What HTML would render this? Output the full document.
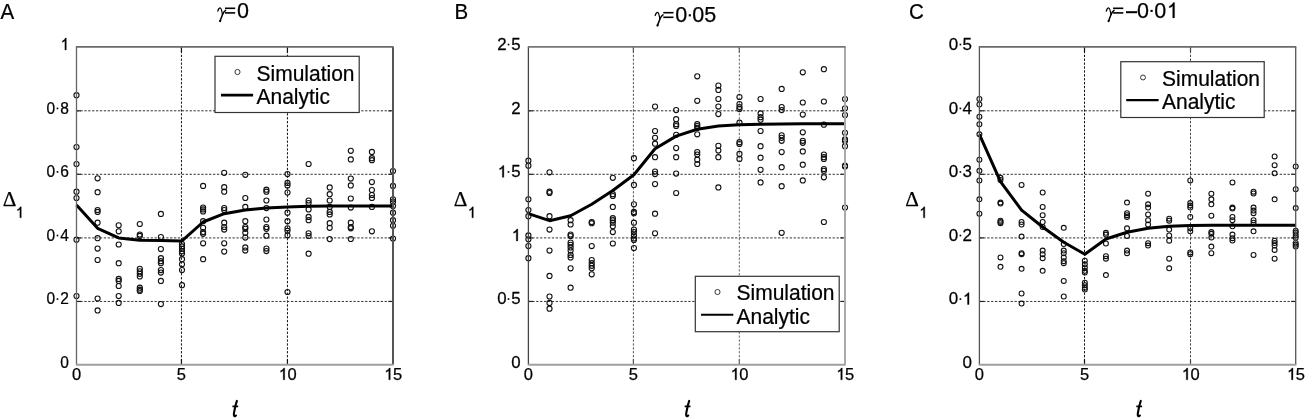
<!DOCTYPE html>
<html><head><meta charset="utf-8"><style>
html,body{margin:0;padding:0;background:#fff;}
body{width:1308px;height:420px;overflow:hidden;}
svg{display:block;will-change:transform;}
text{font-family:"Liberation Sans",sans-serif;fill:#000;stroke:#000;stroke-width:0.25px;}
.sr{font-family:"Liberation Serif",serif;}
</style></head><body>
<svg width="1308" height="420" viewBox="0 0 1308 420">

<g fill="none" stroke="#111" stroke-width="1.1"><line x1="181.45" y1="46.9" x2="181.45" y2="364.7" stroke="#111" stroke-width="1" stroke-dasharray="2.3 1.6"/>
<line x1="181.45" y1="364.7" x2="181.45" y2="359.2" stroke="#111" stroke-width="1.2"/>
<line x1="181.45" y1="46.9" x2="181.45" y2="52.4" stroke="#111" stroke-width="1.2"/>
<line x1="287.45" y1="46.9" x2="287.45" y2="364.7" stroke="#111" stroke-width="1" stroke-dasharray="2.3 1.6"/>
<line x1="287.45" y1="364.7" x2="287.45" y2="359.2" stroke="#111" stroke-width="1.2"/>
<line x1="287.45" y1="46.9" x2="287.45" y2="52.4" stroke="#111" stroke-width="1.2"/>
<line x1="76.5" y1="301.45" x2="393" y2="301.45" stroke="#333" stroke-width="1" stroke-dasharray="2.3 1.6"/>
<line x1="76.5" y1="301.45" x2="81" y2="301.45" stroke="#222" stroke-width="1.2"/>
<line x1="393" y1="301.45" x2="388.5" y2="301.45" stroke="#222" stroke-width="1.2"/>
<line x1="76.5" y1="237.9" x2="393" y2="237.9" stroke="#333" stroke-width="1" stroke-dasharray="2.3 1.6"/>
<line x1="76.5" y1="237.9" x2="81" y2="237.9" stroke="#222" stroke-width="1.2"/>
<line x1="393" y1="237.9" x2="388.5" y2="237.9" stroke="#222" stroke-width="1.2"/>
<line x1="76.5" y1="174.3" x2="393" y2="174.3" stroke="#333" stroke-width="1" stroke-dasharray="2.3 1.6"/>
<line x1="76.5" y1="174.3" x2="81" y2="174.3" stroke="#222" stroke-width="1.2"/>
<line x1="393" y1="174.3" x2="388.5" y2="174.3" stroke="#222" stroke-width="1.2"/>
<line x1="76.5" y1="110.8" x2="393" y2="110.8" stroke="#333" stroke-width="1" stroke-dasharray="2.3 1.6"/>
<line x1="76.5" y1="110.8" x2="81" y2="110.8" stroke="#222" stroke-width="1.2"/>
<line x1="393" y1="110.8" x2="388.5" y2="110.8" stroke="#222" stroke-width="1.2"/>
<circle cx="76.5" cy="95.2" r="2.55"/>
<circle cx="76.5" cy="147" r="2.55"/>
<circle cx="76.5" cy="164" r="2.55"/>
<circle cx="76.5" cy="191.7" r="2.55"/>
<circle cx="76.5" cy="198" r="2.55"/>
<circle cx="76.5" cy="239.7" r="2.55"/>
<circle cx="76.5" cy="296" r="2.55"/>
<circle cx="97.6" cy="178.3" r="2.55"/>
<circle cx="97.6" cy="192.2" r="2.55"/>
<circle cx="97.6" cy="210.1" r="2.55"/>
<circle cx="97.6" cy="211.9" r="2.55"/>
<circle cx="97.6" cy="222.7" r="2.55"/>
<circle cx="97.6" cy="238.2" r="2.55"/>
<circle cx="97.6" cy="248.6" r="2.55"/>
<circle cx="97.6" cy="260" r="2.55"/>
<circle cx="97.6" cy="298.6" r="2.55"/>
<circle cx="97.6" cy="310.4" r="2.55"/>
<circle cx="118.7" cy="225.3" r="2.55"/>
<circle cx="118.7" cy="231.3" r="2.55"/>
<circle cx="118.7" cy="244.5" r="2.55"/>
<circle cx="118.7" cy="263.2" r="2.55"/>
<circle cx="118.7" cy="278.9" r="2.55"/>
<circle cx="118.7" cy="280.9" r="2.55"/>
<circle cx="118.7" cy="286" r="2.55"/>
<circle cx="118.7" cy="296" r="2.55"/>
<circle cx="118.7" cy="302.9" r="2.55"/>
<circle cx="139.8" cy="224" r="2.55"/>
<circle cx="139.8" cy="234.6" r="2.55"/>
<circle cx="139.8" cy="235.9" r="2.55"/>
<circle cx="139.8" cy="268.8" r="2.55"/>
<circle cx="139.8" cy="271.3" r="2.55"/>
<circle cx="139.8" cy="273.8" r="2.55"/>
<circle cx="139.8" cy="276.4" r="2.55"/>
<circle cx="139.8" cy="287.7" r="2.55"/>
<circle cx="139.8" cy="289.7" r="2.55"/>
<circle cx="139.8" cy="291" r="2.55"/>
<circle cx="160.9" cy="213.9" r="2.55"/>
<circle cx="160.9" cy="237" r="2.55"/>
<circle cx="160.9" cy="249.1" r="2.55"/>
<circle cx="160.9" cy="258.2" r="2.55"/>
<circle cx="160.9" cy="261.2" r="2.55"/>
<circle cx="160.9" cy="263.2" r="2.55"/>
<circle cx="160.9" cy="270.1" r="2.55"/>
<circle cx="160.9" cy="272.6" r="2.55"/>
<circle cx="160.9" cy="280.9" r="2.55"/>
<circle cx="160.9" cy="304.1" r="2.55"/>
<circle cx="182" cy="244" r="2.55"/>
<circle cx="182" cy="246.4" r="2.55"/>
<circle cx="182" cy="248.8" r="2.55"/>
<circle cx="182" cy="251.2" r="2.55"/>
<circle cx="182" cy="253.6" r="2.55"/>
<circle cx="182" cy="259.2" r="2.55"/>
<circle cx="182" cy="264.3" r="2.55"/>
<circle cx="182" cy="270.1" r="2.55"/>
<circle cx="182" cy="285.2" r="2.55"/>
<circle cx="203.1" cy="185.9" r="2.55"/>
<circle cx="203.1" cy="207.6" r="2.55"/>
<circle cx="203.1" cy="209.4" r="2.55"/>
<circle cx="203.1" cy="211.4" r="2.55"/>
<circle cx="203.1" cy="221.2" r="2.55"/>
<circle cx="203.1" cy="227.8" r="2.55"/>
<circle cx="203.1" cy="232.1" r="2.55"/>
<circle cx="203.1" cy="233.8" r="2.55"/>
<circle cx="203.1" cy="243.3" r="2.55"/>
<circle cx="203.1" cy="259.2" r="2.55"/>
<circle cx="224.2" cy="172.8" r="2.55"/>
<circle cx="224.2" cy="187.2" r="2.55"/>
<circle cx="224.2" cy="191.7" r="2.55"/>
<circle cx="224.2" cy="208.1" r="2.55"/>
<circle cx="224.2" cy="210.1" r="2.55"/>
<circle cx="224.2" cy="222.7" r="2.55"/>
<circle cx="224.2" cy="227" r="2.55"/>
<circle cx="224.2" cy="229.6" r="2.55"/>
<circle cx="224.2" cy="243.3" r="2.55"/>
<circle cx="224.2" cy="251.6" r="2.55"/>
<circle cx="245.3" cy="174.8" r="2.55"/>
<circle cx="245.3" cy="198" r="2.55"/>
<circle cx="245.3" cy="206.9" r="2.55"/>
<circle cx="245.3" cy="221.2" r="2.55"/>
<circle cx="245.3" cy="227" r="2.55"/>
<circle cx="245.3" cy="228.8" r="2.55"/>
<circle cx="245.3" cy="232.8" r="2.55"/>
<circle cx="245.3" cy="237.6" r="2.55"/>
<circle cx="245.3" cy="247.4" r="2.55"/>
<circle cx="245.3" cy="250.6" r="2.55"/>
<circle cx="266.4" cy="189.7" r="2.55"/>
<circle cx="266.4" cy="191.7" r="2.55"/>
<circle cx="266.4" cy="200.5" r="2.55"/>
<circle cx="266.4" cy="208.1" r="2.55"/>
<circle cx="266.4" cy="219.5" r="2.55"/>
<circle cx="266.4" cy="227" r="2.55"/>
<circle cx="266.4" cy="228.8" r="2.55"/>
<circle cx="266.4" cy="235.7" r="2.55"/>
<circle cx="266.4" cy="248.6" r="2.55"/>
<circle cx="266.4" cy="251.1" r="2.55"/>
<circle cx="287.5" cy="174.1" r="2.55"/>
<circle cx="287.5" cy="182.9" r="2.55"/>
<circle cx="287.5" cy="185.4" r="2.55"/>
<circle cx="287.5" cy="192.5" r="2.55"/>
<circle cx="287.5" cy="212.7" r="2.55"/>
<circle cx="287.5" cy="221.2" r="2.55"/>
<circle cx="287.5" cy="228.3" r="2.55"/>
<circle cx="287.5" cy="230.8" r="2.55"/>
<circle cx="287.5" cy="235.3" r="2.55"/>
<circle cx="287.5" cy="292" r="2.55"/>
<circle cx="308.6" cy="164" r="2.55"/>
<circle cx="308.6" cy="200.5" r="2.55"/>
<circle cx="308.6" cy="203.1" r="2.55"/>
<circle cx="308.6" cy="209.4" r="2.55"/>
<circle cx="308.6" cy="216.9" r="2.55"/>
<circle cx="308.6" cy="220.2" r="2.55"/>
<circle cx="308.6" cy="233.3" r="2.55"/>
<circle cx="308.6" cy="236" r="2.55"/>
<circle cx="308.6" cy="253.7" r="2.55"/>
<circle cx="329.7" cy="187.4" r="2.55"/>
<circle cx="329.7" cy="194.2" r="2.55"/>
<circle cx="329.7" cy="200.5" r="2.55"/>
<circle cx="329.7" cy="206.9" r="2.55"/>
<circle cx="329.7" cy="211.9" r="2.55"/>
<circle cx="329.7" cy="214.4" r="2.55"/>
<circle cx="329.7" cy="223.2" r="2.55"/>
<circle cx="329.7" cy="227.8" r="2.55"/>
<circle cx="329.7" cy="239.1" r="2.55"/>
<circle cx="350.8" cy="150.8" r="2.55"/>
<circle cx="350.8" cy="159.4" r="2.55"/>
<circle cx="350.8" cy="178.6" r="2.55"/>
<circle cx="350.8" cy="185.4" r="2.55"/>
<circle cx="350.8" cy="198.5" r="2.55"/>
<circle cx="350.8" cy="207.6" r="2.55"/>
<circle cx="350.8" cy="222.7" r="2.55"/>
<circle cx="350.8" cy="227" r="2.55"/>
<circle cx="350.8" cy="228.3" r="2.55"/>
<circle cx="350.8" cy="239" r="2.55"/>
<circle cx="371.9" cy="151.9" r="2.55"/>
<circle cx="371.9" cy="158.2" r="2.55"/>
<circle cx="371.9" cy="160.2" r="2.55"/>
<circle cx="371.9" cy="182.1" r="2.55"/>
<circle cx="371.9" cy="190" r="2.55"/>
<circle cx="371.9" cy="195" r="2.55"/>
<circle cx="371.9" cy="198" r="2.55"/>
<circle cx="371.9" cy="206.9" r="2.55"/>
<circle cx="371.9" cy="231.3" r="2.55"/>
<circle cx="393" cy="171" r="2.55"/>
<circle cx="393" cy="185.9" r="2.55"/>
<circle cx="393" cy="199.3" r="2.55"/>
<circle cx="393" cy="201.8" r="2.55"/>
<circle cx="393" cy="206.1" r="2.55"/>
<circle cx="393" cy="212.7" r="2.55"/>
<circle cx="393" cy="220.2" r="2.55"/>
<circle cx="393" cy="225.8" r="2.55"/>
<circle cx="393" cy="238.5" r="2.55"/>
<polyline points="76.5,205.1 97.6,228.3 118.7,237.9 139.8,240.2 160.9,240.4 182,240.9 203.1,222 224.2,213.7 245.3,209.9 266.4,208.1 287.5,207.1 308.6,206.3 329.7,206.1 350.8,206.1 371.9,206.1 393,206.1" fill="none" stroke="#000" stroke-width="3" stroke-linejoin="round"/></g>
<line x1="76.5" y1="46.9" x2="76.5" y2="364.7" stroke="#666" stroke-width="1.3"/>
<line x1="393" y1="46.9" x2="393" y2="364.7" stroke="#555" stroke-width="2.0"/>
<line x1="75.9" y1="46.9" x2="393.6" y2="46.9" stroke="#6a6a6a" stroke-width="1.8"/>
<line x1="75.9" y1="364.7" x2="393.6" y2="364.7" stroke="#a0a0a0" stroke-width="2.0"/>
<rect x="215" y="56.3" width="144.2" height="56.2" fill="#fff" stroke="#333" stroke-width="1.2"/>
<circle cx="237.5" cy="72" r="2.55" fill="none" stroke="#222" stroke-width="0.9"/>
<line x1="221" y1="95.1" x2="253.1" y2="95.1" stroke="#000" stroke-width="2.6"/>
<text font-size="22" transform="translate(256.5 80.5) scale(0.955 1)">Simulation</text>
<text font-size="22" transform="translate(256.5 103.7) scale(0.955 1)">Analytic</text>
<text transform="translate(60.25 367.7) scale(0.94 1)" font-size="16.5">0</text>
<text transform="translate(46.4 304.45) scale(0.94 1)" font-size="16.5">0</text>
<rect x="56.67" y="298.26" width="1.65" height="1.65" fill="#000"/>
<text transform="translate(60.25 304.45) scale(0.94 1)" font-size="16.5">2</text>
<text transform="translate(46.4 240.9) scale(0.94 1)" font-size="16.5">0</text>
<rect x="56.67" y="234.71" width="1.65" height="1.65" fill="#000"/>
<text transform="translate(60.25 240.9) scale(0.94 1)" font-size="16.5">4</text>
<text transform="translate(46.4 177.3) scale(0.94 1)" font-size="16.5">0</text>
<rect x="56.67" y="171.11" width="1.65" height="1.65" fill="#000"/>
<text transform="translate(60.25 177.3) scale(0.94 1)" font-size="16.5">6</text>
<text transform="translate(46.4 113.8) scale(0.94 1)" font-size="16.5">0</text>
<rect x="56.67" y="107.61" width="1.65" height="1.65" fill="#000"/>
<text transform="translate(60.25 113.8) scale(0.94 1)" font-size="16.5">8</text>
<path d="M.39 0L.30 0L.30-.555L.27-.527L.225-.499L.18-.478L.14-.463L.14-.545L.205-.578L.285-.645L.33-.716L.39-.716Z" transform="translate(60.25 49.9) scale(15.5 16.5)" fill="#000" stroke="#000" stroke-width="0.02"/>
<text x="71.91" y="379.8" font-size="16.5">0</text>
<text x="176.86" y="379.8" font-size="16.5">5</text>
<path d="M.39 0L.30 0L.30-.555L.27-.527L.225-.499L.18-.478L.14-.463L.14-.545L.205-.578L.285-.645L.33-.716L.39-.716Z" transform="translate(278.28 379.8) scale(16.5 16.5)" fill="#000" stroke="#000" stroke-width="0.02"/>
<text x="287.45" y="379.8" font-size="16.5">0</text>
<path d="M.39 0L.30 0L.30-.555L.27-.527L.225-.499L.18-.478L.14-.463L.14-.545L.205-.578L.285-.645L.33-.716L.39-.716Z" transform="translate(383.83 379.8) scale(16.5 16.5)" fill="#000" stroke="#000" stroke-width="0.02"/>
<text x="393" y="379.8" font-size="16.5">5</text>
<text transform="translate(0.5 19.0) scale(0.9 1)" font-size="22.8">A</text>
<path d="M217.8,11.1 C218.3,9.2 219.3,7.9 220.3,8 C221.4,8.2 221.9,11.2 222.5,14.6" fill="none" stroke="#000" stroke-width="1.25" stroke-linecap="round"/>
<path d="M225.6,10.4 C224.3,11.2 223.1,13.1 222.5,14.6 C221.8,16.6 220.8,19 220,21.1" fill="none" stroke="#000" stroke-width="1.5" stroke-linecap="round"/>
<ellipse cx="220.2" cy="20.9" rx="1.1" ry="1.2" fill="#000" transform="rotate(25 220.2 20.9)"/>
<rect x="225" y="7.5" width="10.2" height="1.6" fill="#000"/>
<rect x="225" y="12.1" width="10.2" height="1.6" fill="#000"/>
<text x="237" y="17.9" font-size="21.5">0</text>
<text class="sr" font-size="21.2" x="2.65" y="206.1">Δ</text>
<path d="M.39 0L.30 0L.30-.555L.27-.527L.225-.499L.18-.478L.14-.463L.14-.545L.205-.578L.285-.645L.33-.716L.39-.716Z" transform="translate(15.26 217.8) scale(15.4 15.4)" fill="#000" stroke="#000" stroke-width="0.02"/>
<path d="M236.9,400.9 C236,403.3 234.7,408.5 234,412.9 C233.6,415.5 234.1,416.4 235.1,416.2 L236,415.5" fill="none" stroke="#000" stroke-width="2.1" stroke-linecap="round"/>
<path d="M232.4,406.4 L238.2,406.4" fill="none" stroke="#000" stroke-width="1.7"/>
<g fill="none" stroke="#111" stroke-width="1.1"><line x1="633.4" y1="46.9" x2="633.4" y2="364.7" stroke="#555" stroke-width="1" stroke-dasharray="2.3 1.6"/>
<line x1="633.4" y1="364.7" x2="633.4" y2="359.2" stroke="#555" stroke-width="1.2"/>
<line x1="633.4" y1="46.9" x2="633.4" y2="52.4" stroke="#555" stroke-width="1.2"/>
<line x1="739.3" y1="46.9" x2="739.3" y2="364.7" stroke="#666" stroke-width="1" stroke-dasharray="2.3 1.6"/>
<line x1="739.3" y1="364.7" x2="739.3" y2="359.2" stroke="#666" stroke-width="1.2"/>
<line x1="739.3" y1="46.9" x2="739.3" y2="52.4" stroke="#666" stroke-width="1.2"/>
<line x1="528.4" y1="301.45" x2="845" y2="301.45" stroke="#333" stroke-width="1" stroke-dasharray="2.3 1.6"/>
<line x1="528.4" y1="301.45" x2="532.9" y2="301.45" stroke="#222" stroke-width="1.2"/>
<line x1="845" y1="301.45" x2="840.5" y2="301.45" stroke="#222" stroke-width="1.2"/>
<line x1="528.4" y1="237.9" x2="845" y2="237.9" stroke="#333" stroke-width="1" stroke-dasharray="2.3 1.6"/>
<line x1="528.4" y1="237.9" x2="532.9" y2="237.9" stroke="#222" stroke-width="1.2"/>
<line x1="845" y1="237.9" x2="840.5" y2="237.9" stroke="#222" stroke-width="1.2"/>
<line x1="528.4" y1="174.3" x2="845" y2="174.3" stroke="#333" stroke-width="1" stroke-dasharray="2.3 1.6"/>
<line x1="528.4" y1="174.3" x2="532.9" y2="174.3" stroke="#222" stroke-width="1.2"/>
<line x1="845" y1="174.3" x2="840.5" y2="174.3" stroke="#222" stroke-width="1.2"/>
<line x1="528.4" y1="110.8" x2="845" y2="110.8" stroke="#333" stroke-width="1" stroke-dasharray="2.3 1.6"/>
<line x1="528.4" y1="110.8" x2="532.9" y2="110.8" stroke="#222" stroke-width="1.2"/>
<line x1="845" y1="110.8" x2="840.5" y2="110.8" stroke="#222" stroke-width="1.2"/>
<circle cx="528.4" cy="160.7" r="2.55"/>
<circle cx="528.4" cy="165.7" r="2.55"/>
<circle cx="528.4" cy="199.3" r="2.55"/>
<circle cx="528.4" cy="210.1" r="2.55"/>
<circle cx="528.4" cy="216.2" r="2.55"/>
<circle cx="528.4" cy="235.4" r="2.55"/>
<circle cx="528.4" cy="239.3" r="2.55"/>
<circle cx="528.4" cy="246.1" r="2.55"/>
<circle cx="528.4" cy="258.2" r="2.55"/>
<circle cx="549.51" cy="172.3" r="2.55"/>
<circle cx="549.51" cy="191.7" r="2.55"/>
<circle cx="549.51" cy="193" r="2.55"/>
<circle cx="549.51" cy="216.2" r="2.55"/>
<circle cx="549.51" cy="229.6" r="2.55"/>
<circle cx="549.51" cy="250.6" r="2.55"/>
<circle cx="549.51" cy="275.9" r="2.55"/>
<circle cx="549.51" cy="296.5" r="2.55"/>
<circle cx="549.51" cy="302.9" r="2.55"/>
<circle cx="549.51" cy="308.7" r="2.55"/>
<circle cx="570.61" cy="220.2" r="2.55"/>
<circle cx="570.61" cy="224.5" r="2.55"/>
<circle cx="570.61" cy="234.6" r="2.55"/>
<circle cx="570.61" cy="236" r="2.55"/>
<circle cx="570.61" cy="242.6" r="2.55"/>
<circle cx="570.61" cy="244.8" r="2.55"/>
<circle cx="570.61" cy="247.4" r="2.55"/>
<circle cx="570.61" cy="250.6" r="2.55"/>
<circle cx="570.61" cy="254.9" r="2.55"/>
<circle cx="570.61" cy="257.4" r="2.55"/>
<circle cx="570.61" cy="268.3" r="2.55"/>
<circle cx="570.61" cy="287.7" r="2.55"/>
<circle cx="591.72" cy="222" r="2.55"/>
<circle cx="591.72" cy="223.2" r="2.55"/>
<circle cx="591.72" cy="246.1" r="2.55"/>
<circle cx="591.72" cy="260" r="2.55"/>
<circle cx="591.72" cy="263.2" r="2.55"/>
<circle cx="591.72" cy="265.8" r="2.55"/>
<circle cx="591.72" cy="268.3" r="2.55"/>
<circle cx="591.72" cy="274.3" r="2.55"/>
<circle cx="612.83" cy="177.8" r="2.55"/>
<circle cx="612.83" cy="194.2" r="2.55"/>
<circle cx="612.83" cy="196" r="2.55"/>
<circle cx="612.83" cy="206.9" r="2.55"/>
<circle cx="612.83" cy="218.2" r="2.55"/>
<circle cx="612.83" cy="220.2" r="2.55"/>
<circle cx="612.83" cy="222.7" r="2.55"/>
<circle cx="612.83" cy="226.3" r="2.55"/>
<circle cx="612.83" cy="232.1" r="2.55"/>
<circle cx="612.83" cy="243.5" r="2.55"/>
<circle cx="633.93" cy="158.2" r="2.55"/>
<circle cx="633.93" cy="184.9" r="2.55"/>
<circle cx="633.93" cy="204.3" r="2.55"/>
<circle cx="633.93" cy="211.9" r="2.55"/>
<circle cx="633.93" cy="213.2" r="2.55"/>
<circle cx="633.93" cy="222.7" r="2.55"/>
<circle cx="633.93" cy="229.6" r="2.55"/>
<circle cx="633.93" cy="232.1" r="2.55"/>
<circle cx="633.93" cy="235.4" r="2.55"/>
<circle cx="633.93" cy="238.5" r="2.55"/>
<circle cx="633.93" cy="240" r="2.55"/>
<circle cx="633.93" cy="248.1" r="2.55"/>
<circle cx="655.04" cy="106.6" r="2.55"/>
<circle cx="655.04" cy="131" r="2.55"/>
<circle cx="655.04" cy="137.8" r="2.55"/>
<circle cx="655.04" cy="143.7" r="2.55"/>
<circle cx="655.04" cy="157.2" r="2.55"/>
<circle cx="655.04" cy="171.5" r="2.55"/>
<circle cx="655.04" cy="174.1" r="2.55"/>
<circle cx="655.04" cy="184.1" r="2.55"/>
<circle cx="655.04" cy="213.7" r="2.55"/>
<circle cx="655.04" cy="233.3" r="2.55"/>
<circle cx="676.15" cy="110.1" r="2.55"/>
<circle cx="676.15" cy="119.2" r="2.55"/>
<circle cx="676.15" cy="124.2" r="2.55"/>
<circle cx="676.15" cy="126" r="2.55"/>
<circle cx="676.15" cy="134.8" r="2.55"/>
<circle cx="676.15" cy="148.1" r="2.55"/>
<circle cx="676.15" cy="157.2" r="2.55"/>
<circle cx="676.15" cy="173.6" r="2.55"/>
<circle cx="676.15" cy="193" r="2.55"/>
<circle cx="697.25" cy="76.3" r="2.55"/>
<circle cx="697.25" cy="100.8" r="2.55"/>
<circle cx="697.25" cy="124.2" r="2.55"/>
<circle cx="697.25" cy="126" r="2.55"/>
<circle cx="697.25" cy="127.8" r="2.55"/>
<circle cx="697.25" cy="134.3" r="2.55"/>
<circle cx="697.25" cy="152.1" r="2.55"/>
<circle cx="697.25" cy="154.6" r="2.55"/>
<circle cx="697.25" cy="159.7" r="2.55"/>
<circle cx="697.25" cy="164" r="2.55"/>
<circle cx="718.36" cy="85.6" r="2.55"/>
<circle cx="718.36" cy="89.9" r="2.55"/>
<circle cx="718.36" cy="99" r="2.55"/>
<circle cx="718.36" cy="106.6" r="2.55"/>
<circle cx="718.36" cy="114.1" r="2.55"/>
<circle cx="718.36" cy="145.8" r="2.55"/>
<circle cx="718.36" cy="150.6" r="2.55"/>
<circle cx="718.36" cy="157.2" r="2.55"/>
<circle cx="718.36" cy="187.4" r="2.55"/>
<circle cx="739.47" cy="97" r="2.55"/>
<circle cx="739.47" cy="104" r="2.55"/>
<circle cx="739.47" cy="107.1" r="2.55"/>
<circle cx="739.47" cy="109.1" r="2.55"/>
<circle cx="739.47" cy="122.7" r="2.55"/>
<circle cx="739.47" cy="142.2" r="2.55"/>
<circle cx="739.47" cy="144" r="2.55"/>
<circle cx="739.47" cy="153.9" r="2.55"/>
<circle cx="739.47" cy="158.9" r="2.55"/>
<circle cx="760.57" cy="99" r="2.55"/>
<circle cx="760.57" cy="113.4" r="2.55"/>
<circle cx="760.57" cy="117.2" r="2.55"/>
<circle cx="760.57" cy="119.7" r="2.55"/>
<circle cx="760.57" cy="131" r="2.55"/>
<circle cx="760.57" cy="146.2" r="2.55"/>
<circle cx="760.57" cy="157.7" r="2.55"/>
<circle cx="760.57" cy="169.8" r="2.55"/>
<circle cx="760.57" cy="182.4" r="2.55"/>
<circle cx="781.68" cy="88.9" r="2.55"/>
<circle cx="781.68" cy="107.1" r="2.55"/>
<circle cx="781.68" cy="110.1" r="2.55"/>
<circle cx="781.68" cy="135.3" r="2.55"/>
<circle cx="781.68" cy="137.8" r="2.55"/>
<circle cx="781.68" cy="140.8" r="2.55"/>
<circle cx="781.68" cy="152.1" r="2.55"/>
<circle cx="781.68" cy="167.2" r="2.55"/>
<circle cx="781.68" cy="186.2" r="2.55"/>
<circle cx="781.68" cy="232.8" r="2.55"/>
<circle cx="802.79" cy="72.3" r="2.55"/>
<circle cx="802.79" cy="102.5" r="2.55"/>
<circle cx="802.79" cy="114.6" r="2.55"/>
<circle cx="802.79" cy="132.3" r="2.55"/>
<circle cx="802.79" cy="140.8" r="2.55"/>
<circle cx="802.79" cy="142.8" r="2.55"/>
<circle cx="802.79" cy="151.4" r="2.55"/>
<circle cx="802.79" cy="164.7" r="2.55"/>
<circle cx="802.79" cy="180.4" r="2.55"/>
<circle cx="823.89" cy="69.2" r="2.55"/>
<circle cx="823.89" cy="101.5" r="2.55"/>
<circle cx="823.89" cy="124.7" r="2.55"/>
<circle cx="823.89" cy="154.6" r="2.55"/>
<circle cx="823.89" cy="157.2" r="2.55"/>
<circle cx="823.89" cy="158.9" r="2.55"/>
<circle cx="823.89" cy="169" r="2.55"/>
<circle cx="823.89" cy="170.8" r="2.55"/>
<circle cx="823.89" cy="177.3" r="2.55"/>
<circle cx="823.89" cy="222" r="2.55"/>
<circle cx="845" cy="99" r="2.55"/>
<circle cx="845" cy="108.3" r="2.55"/>
<circle cx="845" cy="115.1" r="2.55"/>
<circle cx="845" cy="132.8" r="2.55"/>
<circle cx="845" cy="139.4" r="2.55"/>
<circle cx="845" cy="141.1" r="2.55"/>
<circle cx="845" cy="146.2" r="2.55"/>
<circle cx="845" cy="165.7" r="2.55"/>
<circle cx="845" cy="166.5" r="2.55"/>
<circle cx="845" cy="207.6" r="2.55"/>
<polyline points="528.4,213.7 549.51,220.7 570.61,215.7 591.72,204.3 612.83,190.5 633.93,174.8 655.04,148.8 676.15,136.1 697.25,129.3 718.36,126 739.47,124.7 760.57,124.2 781.68,123.9 802.79,123.8 823.89,123.8 845,123.8" fill="none" stroke="#000" stroke-width="3" stroke-linejoin="round"/></g>
<line x1="528.4" y1="46.9" x2="528.4" y2="364.7" stroke="#444" stroke-width="1.3"/>
<line x1="845" y1="46.9" x2="845" y2="364.7" stroke="#aaa" stroke-width="2.0"/>
<line x1="527.8" y1="46.9" x2="845.6" y2="46.9" stroke="#777" stroke-width="1.8"/>
<line x1="527.8" y1="364.7" x2="845.6" y2="364.7" stroke="#a0a0a0" stroke-width="2.0"/>
<rect x="695.3" y="276.3" width="143.9" height="55.4" fill="#fff" stroke="#333" stroke-width="1.2"/>
<circle cx="717.5" cy="292" r="2.55" fill="none" stroke="#222" stroke-width="0.9"/>
<line x1="701" y1="314.8" x2="733.3" y2="314.8" stroke="#000" stroke-width="1.9"/>
<text font-size="22" transform="translate(736.5 300.3) scale(0.955 1)">Simulation</text>
<text font-size="22" transform="translate(736.5 323.7) scale(0.955 1)">Analytic</text>
<text transform="translate(511.25 367.7) scale(1.02 1)" font-size="16.5">0</text>
<text transform="translate(497.3 304.45) scale(1.02 1)" font-size="16.5">0</text>
<rect x="507.68" y="298.26" width="1.65" height="1.65" fill="#000"/>
<text transform="translate(511.25 304.45) scale(1.02 1)" font-size="16.5">5</text>
<path d="M.39 0L.30 0L.30-.555L.27-.527L.225-.499L.18-.478L.14-.463L.14-.545L.205-.578L.285-.645L.33-.716L.39-.716Z" transform="translate(511.25 240.9) scale(16.8 16.5)" fill="#000" stroke="#000" stroke-width="0.02"/>
<path d="M.39 0L.30 0L.30-.555L.27-.527L.225-.499L.18-.478L.14-.463L.14-.545L.205-.578L.285-.645L.33-.716L.39-.716Z" transform="translate(497.3 177.3) scale(16.8 16.5)" fill="#000" stroke="#000" stroke-width="0.02"/>
<rect x="507.68" y="171.11" width="1.65" height="1.65" fill="#000"/>
<text transform="translate(511.25 177.3) scale(1.02 1)" font-size="16.5">5</text>
<text transform="translate(511.25 113.8) scale(1.02 1)" font-size="16.5">2</text>
<text transform="translate(497.3 49.9) scale(1.02 1)" font-size="16.5">2</text>
<rect x="507.68" y="43.71" width="1.65" height="1.65" fill="#000"/>
<text transform="translate(511.25 49.9) scale(1.02 1)" font-size="16.5">5</text>
<text x="523.81" y="379.8" font-size="16.5">0</text>
<text x="628.81" y="379.8" font-size="16.5">5</text>
<path d="M.39 0L.30 0L.30-.555L.27-.527L.225-.499L.18-.478L.14-.463L.14-.545L.205-.578L.285-.645L.33-.716L.39-.716Z" transform="translate(730.13 379.8) scale(16.5 16.5)" fill="#000" stroke="#000" stroke-width="0.02"/>
<text x="739.3" y="379.8" font-size="16.5">0</text>
<path d="M.39 0L.30 0L.30-.555L.27-.527L.225-.499L.18-.478L.14-.463L.14-.545L.205-.578L.285-.645L.33-.716L.39-.716Z" transform="translate(835.83 379.8) scale(16.5 16.5)" fill="#000" stroke="#000" stroke-width="0.02"/>
<text x="845" y="379.8" font-size="16.5">5</text>
<text transform="translate(454.4 19.0) scale(0.9 1)" font-size="22.8">B</text>
<path d="M655.2,15.5 C655.7,13.6 656.7,12.3 657.7,12.4 C658.8,12.6 659.3,15.6 659.9,19" fill="none" stroke="#000" stroke-width="1.25" stroke-linecap="round"/>
<path d="M663,14.8 C661.7,15.6 660.5,17.5 659.9,19 C659.2,21 658.2,23.4 657.4,25.5" fill="none" stroke="#000" stroke-width="1.5" stroke-linecap="round"/>
<ellipse cx="657.6" cy="25.3" rx="1.1" ry="1.2" fill="#000" transform="rotate(25 657.6 25.3)"/>
<rect x="663.3" y="11.9" width="10.2" height="1.6" fill="#000"/>
<rect x="663.3" y="16.5" width="10.2" height="1.6" fill="#000"/>
<text x="675.3" y="22.3" font-size="21.5">0</text>
<rect x="688.73" y="14.24" width="2.15" height="2.15" fill="#000"/>
<text x="692.35" y="22.3" font-size="21.5">0</text>
<text x="704.31" y="22.3" font-size="21.5">5</text>
<text class="sr" font-size="21.2" x="453.7" y="206.1">Δ</text>
<path d="M.39 0L.30 0L.30-.555L.27-.527L.225-.499L.18-.478L.14-.463L.14-.545L.205-.578L.285-.645L.33-.716L.39-.716Z" transform="translate(467.3 217.8) scale(15.4 15.4)" fill="#000" stroke="#000" stroke-width="0.02"/>
<path d="M689.2,400.9 C688.3,403.3 687,408.5 686.3,412.9 C685.9,415.5 686.4,416.4 687.4,416.2 L688.3,415.5" fill="none" stroke="#000" stroke-width="2.1" stroke-linecap="round"/>
<path d="M684.7,406.4 L690.5,406.4" fill="none" stroke="#000" stroke-width="1.7"/>
<g fill="none" stroke="#111" stroke-width="1.1"><line x1="1084.5" y1="46.9" x2="1084.5" y2="364.7" stroke="#111" stroke-width="1" stroke-dasharray="2.3 1.6"/>
<line x1="1084.5" y1="364.7" x2="1084.5" y2="359.2" stroke="#111" stroke-width="1.2"/>
<line x1="1084.5" y1="46.9" x2="1084.5" y2="52.4" stroke="#111" stroke-width="1.2"/>
<line x1="1190.5" y1="46.9" x2="1190.5" y2="364.7" stroke="#444" stroke-width="1" stroke-dasharray="2.3 1.6"/>
<line x1="1190.5" y1="364.7" x2="1190.5" y2="359.2" stroke="#444" stroke-width="1.2"/>
<line x1="1190.5" y1="46.9" x2="1190.5" y2="52.4" stroke="#444" stroke-width="1.2"/>
<line x1="979.4" y1="301.45" x2="1295.7" y2="301.45" stroke="#333" stroke-width="1" stroke-dasharray="2.3 1.6"/>
<line x1="979.4" y1="301.45" x2="983.9" y2="301.45" stroke="#222" stroke-width="1.2"/>
<line x1="1295.7" y1="301.45" x2="1291.2" y2="301.45" stroke="#222" stroke-width="1.2"/>
<line x1="979.4" y1="237.9" x2="1295.7" y2="237.9" stroke="#333" stroke-width="1" stroke-dasharray="2.3 1.6"/>
<line x1="979.4" y1="237.9" x2="983.9" y2="237.9" stroke="#222" stroke-width="1.2"/>
<line x1="1295.7" y1="237.9" x2="1291.2" y2="237.9" stroke="#222" stroke-width="1.2"/>
<line x1="979.4" y1="174.3" x2="1295.7" y2="174.3" stroke="#333" stroke-width="1" stroke-dasharray="2.3 1.6"/>
<line x1="979.4" y1="174.3" x2="983.9" y2="174.3" stroke="#222" stroke-width="1.2"/>
<line x1="1295.7" y1="174.3" x2="1291.2" y2="174.3" stroke="#222" stroke-width="1.2"/>
<line x1="979.4" y1="110.8" x2="1295.7" y2="110.8" stroke="#333" stroke-width="1" stroke-dasharray="2.3 1.6"/>
<line x1="979.4" y1="110.8" x2="983.9" y2="110.8" stroke="#222" stroke-width="1.2"/>
<line x1="1295.7" y1="110.8" x2="1291.2" y2="110.8" stroke="#222" stroke-width="1.2"/>
<circle cx="979.4" cy="99" r="2.45"/>
<circle cx="979.4" cy="104.5" r="2.45"/>
<circle cx="979.4" cy="116.7" r="2.45"/>
<circle cx="979.4" cy="124.2" r="2.45"/>
<circle cx="979.4" cy="134.3" r="2.45"/>
<circle cx="979.4" cy="159.7" r="2.45"/>
<circle cx="979.4" cy="170.8" r="2.45"/>
<circle cx="979.4" cy="180.4" r="2.45"/>
<circle cx="979.4" cy="199.3" r="2.45"/>
<circle cx="979.4" cy="213.7" r="2.45"/>
<circle cx="1000.49" cy="177.8" r="2.45"/>
<circle cx="1000.49" cy="179.9" r="2.45"/>
<circle cx="1000.49" cy="202.6" r="2.45"/>
<circle cx="1000.49" cy="203.6" r="2.45"/>
<circle cx="1000.49" cy="220.7" r="2.45"/>
<circle cx="1000.49" cy="222" r="2.45"/>
<circle cx="1000.49" cy="223.2" r="2.45"/>
<circle cx="1000.49" cy="257.4" r="2.45"/>
<circle cx="1000.49" cy="266.8" r="2.45"/>
<circle cx="1021.57" cy="184.9" r="2.45"/>
<circle cx="1021.57" cy="222" r="2.45"/>
<circle cx="1021.57" cy="224.5" r="2.45"/>
<circle cx="1021.57" cy="236.6" r="2.45"/>
<circle cx="1021.57" cy="253.2" r="2.45"/>
<circle cx="1021.57" cy="254.2" r="2.45"/>
<circle cx="1021.57" cy="268.8" r="2.45"/>
<circle cx="1021.57" cy="293.5" r="2.45"/>
<circle cx="1021.57" cy="303.6" r="2.45"/>
<circle cx="1042.66" cy="192.5" r="2.45"/>
<circle cx="1042.66" cy="206.9" r="2.45"/>
<circle cx="1042.66" cy="215.2" r="2.45"/>
<circle cx="1042.66" cy="222" r="2.45"/>
<circle cx="1042.66" cy="227" r="2.45"/>
<circle cx="1042.66" cy="250.6" r="2.45"/>
<circle cx="1042.66" cy="254.2" r="2.45"/>
<circle cx="1042.66" cy="258.2" r="2.45"/>
<circle cx="1042.66" cy="270.8" r="2.45"/>
<circle cx="1063.75" cy="227.8" r="2.45"/>
<circle cx="1063.75" cy="244.1" r="2.45"/>
<circle cx="1063.75" cy="250.6" r="2.45"/>
<circle cx="1063.75" cy="253.2" r="2.45"/>
<circle cx="1063.75" cy="257.4" r="2.45"/>
<circle cx="1063.75" cy="261.2" r="2.45"/>
<circle cx="1063.75" cy="263.2" r="2.45"/>
<circle cx="1063.75" cy="280.9" r="2.45"/>
<circle cx="1063.75" cy="296.5" r="2.45"/>
<circle cx="1084.83" cy="260.7" r="2.45"/>
<circle cx="1084.83" cy="264.3" r="2.45"/>
<circle cx="1084.83" cy="267.5" r="2.45"/>
<circle cx="1084.83" cy="270.8" r="2.45"/>
<circle cx="1084.83" cy="272.6" r="2.45"/>
<circle cx="1084.83" cy="282.7" r="2.45"/>
<circle cx="1084.83" cy="285.2" r="2.45"/>
<circle cx="1084.83" cy="287.7" r="2.45"/>
<circle cx="1084.83" cy="289.5" r="2.45"/>
<circle cx="1105.92" cy="232.8" r="2.45"/>
<circle cx="1105.92" cy="234.6" r="2.45"/>
<circle cx="1105.92" cy="243.5" r="2.45"/>
<circle cx="1105.92" cy="256.2" r="2.45"/>
<circle cx="1105.92" cy="258.7" r="2.45"/>
<circle cx="1105.92" cy="275.1" r="2.45"/>
<circle cx="1127.01" cy="202.6" r="2.45"/>
<circle cx="1127.01" cy="213.2" r="2.45"/>
<circle cx="1127.01" cy="215.2" r="2.45"/>
<circle cx="1127.01" cy="216.9" r="2.45"/>
<circle cx="1127.01" cy="228.3" r="2.45"/>
<circle cx="1127.01" cy="235.9" r="2.45"/>
<circle cx="1127.01" cy="250.6" r="2.45"/>
<circle cx="1127.01" cy="253.2" r="2.45"/>
<circle cx="1148.09" cy="193.7" r="2.45"/>
<circle cx="1148.09" cy="204.3" r="2.45"/>
<circle cx="1148.09" cy="207.6" r="2.45"/>
<circle cx="1148.09" cy="214.4" r="2.45"/>
<circle cx="1148.09" cy="220.2" r="2.45"/>
<circle cx="1148.09" cy="224.5" r="2.45"/>
<circle cx="1148.09" cy="243.2" r="2.45"/>
<circle cx="1148.09" cy="245.6" r="2.45"/>
<circle cx="1169.18" cy="218.7" r="2.45"/>
<circle cx="1169.18" cy="220.7" r="2.45"/>
<circle cx="1169.18" cy="229.6" r="2.45"/>
<circle cx="1169.18" cy="235.4" r="2.45"/>
<circle cx="1169.18" cy="240.7" r="2.45"/>
<circle cx="1169.18" cy="258.7" r="2.45"/>
<circle cx="1169.18" cy="268.3" r="2.45"/>
<circle cx="1190.27" cy="180.4" r="2.45"/>
<circle cx="1190.27" cy="203.1" r="2.45"/>
<circle cx="1190.27" cy="205.6" r="2.45"/>
<circle cx="1190.27" cy="207.6" r="2.45"/>
<circle cx="1190.27" cy="216.9" r="2.45"/>
<circle cx="1190.27" cy="228.3" r="2.45"/>
<circle cx="1190.27" cy="231.3" r="2.45"/>
<circle cx="1190.27" cy="252.4" r="2.45"/>
<circle cx="1190.27" cy="254.2" r="2.45"/>
<circle cx="1211.35" cy="193.7" r="2.45"/>
<circle cx="1211.35" cy="199.3" r="2.45"/>
<circle cx="1211.35" cy="204.3" r="2.45"/>
<circle cx="1211.35" cy="215.7" r="2.45"/>
<circle cx="1211.35" cy="232.1" r="2.45"/>
<circle cx="1211.35" cy="233.8" r="2.45"/>
<circle cx="1211.35" cy="237.6" r="2.45"/>
<circle cx="1211.35" cy="246.6" r="2.45"/>
<circle cx="1211.35" cy="253.2" r="2.45"/>
<circle cx="1232.44" cy="182.4" r="2.45"/>
<circle cx="1232.44" cy="207.6" r="2.45"/>
<circle cx="1232.44" cy="208.6" r="2.45"/>
<circle cx="1232.44" cy="216.9" r="2.45"/>
<circle cx="1232.44" cy="220.2" r="2.45"/>
<circle cx="1232.44" cy="226.3" r="2.45"/>
<circle cx="1232.44" cy="234.6" r="2.45"/>
<circle cx="1232.44" cy="238.2" r="2.45"/>
<circle cx="1232.44" cy="240.5" r="2.45"/>
<circle cx="1253.53" cy="191.7" r="2.45"/>
<circle cx="1253.53" cy="193.5" r="2.45"/>
<circle cx="1253.53" cy="207.6" r="2.45"/>
<circle cx="1253.53" cy="210.6" r="2.45"/>
<circle cx="1253.53" cy="213.2" r="2.45"/>
<circle cx="1253.53" cy="220.2" r="2.45"/>
<circle cx="1253.53" cy="222.7" r="2.45"/>
<circle cx="1253.53" cy="231.3" r="2.45"/>
<circle cx="1253.53" cy="254.9" r="2.45"/>
<circle cx="1274.61" cy="156.4" r="2.45"/>
<circle cx="1274.61" cy="165.2" r="2.45"/>
<circle cx="1274.61" cy="173.3" r="2.45"/>
<circle cx="1274.61" cy="199.3" r="2.45"/>
<circle cx="1274.61" cy="240.7" r="2.45"/>
<circle cx="1274.61" cy="243.1" r="2.45"/>
<circle cx="1274.61" cy="245.6" r="2.45"/>
<circle cx="1274.61" cy="249.9" r="2.45"/>
<circle cx="1274.61" cy="258.7" r="2.45"/>
<circle cx="1295.7" cy="166.5" r="2.45"/>
<circle cx="1295.7" cy="189.2" r="2.45"/>
<circle cx="1295.7" cy="208.1" r="2.45"/>
<circle cx="1295.7" cy="230.8" r="2.45"/>
<circle cx="1295.7" cy="232.8" r="2.45"/>
<circle cx="1295.7" cy="235.4" r="2.45"/>
<circle cx="1295.7" cy="237.8" r="2.45"/>
<circle cx="1295.7" cy="242.9" r="2.45"/>
<circle cx="1295.7" cy="244.8" r="2.45"/>
<circle cx="1295.7" cy="246.6" r="2.45"/>
<polyline points="979.4,134.3 1000.49,181.6 1021.57,210.1 1042.66,227 1063.75,242.3 1084.83,254.2 1105.92,239 1127.01,232.3 1148.09,228.2 1169.18,226.3 1190.27,225.6 1211.35,225.3 1232.44,225.2 1253.53,225.2 1274.61,225.2 1295.7,225.2" fill="none" stroke="#000" stroke-width="3" stroke-linejoin="round"/></g>
<line x1="979.4" y1="46.9" x2="979.4" y2="364.7" stroke="#555" stroke-width="1.3"/>
<line x1="1295.7" y1="46.9" x2="1295.7" y2="364.7" stroke="#555" stroke-width="1.3"/>
<line x1="978.8" y1="46.9" x2="1296.3" y2="46.9" stroke="#6a6a6a" stroke-width="1.8"/>
<line x1="978.8" y1="364.7" x2="1296.3" y2="364.7" stroke="#a0a0a0" stroke-width="2.0"/>
<rect x="1120.8" y="61.7" width="143.4" height="55.8" fill="#fff" stroke="#333" stroke-width="1.2"/>
<circle cx="1143" cy="77.5" r="2.45" fill="none" stroke="#222" stroke-width="0.9"/>
<line x1="1126.2" y1="100.2" x2="1158.6" y2="100.2" stroke="#000" stroke-width="2.3"/>
<text font-size="22" transform="translate(1162 85.5) scale(0.955 1)">Simulation</text>
<text font-size="22" transform="translate(1162 108.7) scale(0.955 1)">Analytic</text>
<text transform="translate(962.4 367.7) scale(1.03 1)" font-size="16.5">0</text>
<text transform="translate(948.7 304.45) scale(1.03 1)" font-size="16.5">0</text>
<rect x="959.57" y="298.26" width="1.65" height="1.65" fill="#000"/>
<path d="M.39 0L.30 0L.30-.555L.27-.527L.225-.499L.18-.478L.14-.463L.14-.545L.205-.578L.285-.645L.33-.716L.39-.716Z" transform="translate(962.4 304.45) scale(17 16.5)" fill="#000" stroke="#000" stroke-width="0.02"/>
<text transform="translate(948.7 240.9) scale(1.03 1)" font-size="16.5">0</text>
<rect x="959.57" y="234.71" width="1.65" height="1.65" fill="#000"/>
<text transform="translate(962.4 240.9) scale(1.03 1)" font-size="16.5">2</text>
<text transform="translate(948.7 177.3) scale(1.03 1)" font-size="16.5">0</text>
<rect x="959.57" y="171.11" width="1.65" height="1.65" fill="#000"/>
<text transform="translate(962.4 177.3) scale(1.03 1)" font-size="16.5">3</text>
<text transform="translate(948.7 113.8) scale(1.03 1)" font-size="16.5">0</text>
<rect x="959.57" y="107.61" width="1.65" height="1.65" fill="#000"/>
<text transform="translate(962.4 113.8) scale(1.03 1)" font-size="16.5">4</text>
<text transform="translate(948.7 49.9) scale(1.03 1)" font-size="16.5">0</text>
<rect x="959.57" y="43.71" width="1.65" height="1.65" fill="#000"/>
<text transform="translate(962.4 49.9) scale(1.03 1)" font-size="16.5">5</text>
<text x="974.81" y="379.8" font-size="16.5">0</text>
<text x="1079.91" y="379.8" font-size="16.5">5</text>
<path d="M.39 0L.30 0L.30-.555L.27-.527L.225-.499L.18-.478L.14-.463L.14-.545L.205-.578L.285-.645L.33-.716L.39-.716Z" transform="translate(1181.33 379.8) scale(16.5 16.5)" fill="#000" stroke="#000" stroke-width="0.02"/>
<text x="1190.5" y="379.8" font-size="16.5">0</text>
<path d="M.39 0L.30 0L.30-.555L.27-.527L.225-.499L.18-.478L.14-.463L.14-.545L.205-.578L.285-.645L.33-.716L.39-.716Z" transform="translate(1286.53 379.8) scale(16.5 16.5)" fill="#000" stroke="#000" stroke-width="0.02"/>
<text x="1295.7" y="379.8" font-size="16.5">5</text>
<text transform="translate(909 19.0) scale(0.9 1)" font-size="22.8">C</text>
<path d="M1106.3,11.1 C1106.8,9.2 1107.8,7.9 1108.8,8 C1109.9,8.2 1110.4,11.2 1111,14.6" fill="none" stroke="#000" stroke-width="1.25" stroke-linecap="round"/>
<path d="M1114.1,10.4 C1112.8,11.2 1111.6,13.1 1111,14.6 C1110.3,16.6 1109.3,19 1108.5,21.1" fill="none" stroke="#000" stroke-width="1.5" stroke-linecap="round"/>
<ellipse cx="1108.7" cy="20.9" rx="1.1" ry="1.2" fill="#000" transform="rotate(25 1108.7 20.9)"/>
<rect x="1113.1" y="7.5" width="10.2" height="1.6" fill="#000"/>
<rect x="1113.1" y="12.1" width="10.2" height="1.6" fill="#000"/>
<rect x="1126" y="11.2" width="11.2" height="2.0" fill="#000"/>
<text x="1137" y="17.9" font-size="21.5">0</text>
<rect x="1150.53" y="9.84" width="2.15" height="2.15" fill="#000"/>
<text x="1154.25" y="17.9" font-size="21.5">0</text>
<path d="M.39 0L.30 0L.30-.555L.27-.527L.225-.499L.18-.478L.14-.463L.14-.545L.205-.578L.285-.645L.33-.716L.39-.716Z" transform="translate(1166.21 17.9) scale(21.5 21.5)" fill="#000" stroke="#000" stroke-width="0.01"/>
<text class="sr" font-size="21.2" x="905.2" y="206.1">Δ</text>
<path d="M.39 0L.30 0L.30-.555L.27-.527L.225-.499L.18-.478L.14-.463L.14-.545L.205-.578L.285-.645L.33-.716L.39-.716Z" transform="translate(918.8 217.8) scale(15.4 15.4)" fill="#000" stroke="#000" stroke-width="0.02"/>
<path d="M1140.8,400.9 C1139.9,403.3 1138.6,408.5 1137.9,412.9 C1137.5,415.5 1138,416.4 1139,416.2 L1139.9,415.5" fill="none" stroke="#000" stroke-width="2.1" stroke-linecap="round"/>
<path d="M1136.3,406.4 L1142.1,406.4" fill="none" stroke="#000" stroke-width="1.7"/>
</svg></body></html>
